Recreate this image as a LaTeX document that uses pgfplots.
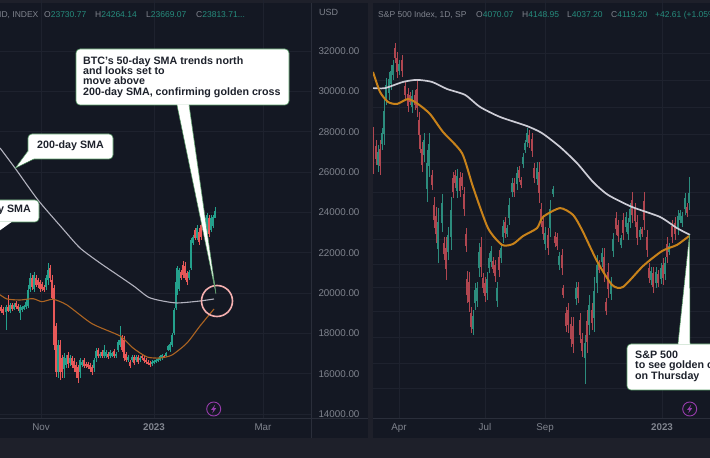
\documentclass[border=0pt]{standalone}
\usepackage{pgfplots}
\usepackage{pgfplotstable}
\usepackage{fontspec}
\setmainfont{Liberation Sans}
\pgfplotsset{compat=1.18}
\definecolor{panelbg}{RGB}{20,24,35}
\definecolor{bandbg}{RGB}{30,32,42}
\definecolor{gridc}{RGB}{30,34,46}
\definecolor{sepc}{RGB}{42,46,58}
\definecolor{labc}{RGB}{128,132,142}
\definecolor{okc}{RGB}{38,140,125}
\definecolor{teal1}{RGB}{36,160,140}
\definecolor{red1}{RGB}{232,88,88}
\definecolor{teal2}{RGB}{44,140,125}
\definecolor{red2}{RGB}{176,70,80}
\definecolor{gray1}{RGB}{178,178,190}
\definecolor{gray2}{RGB}{205,205,214}
\definecolor{or1}{RGB}{172,100,34}
\definecolor{or2}{RGB}{200,130,26}
\definecolor{cedge}{RGB}{92,160,106}
\definecolor{ctext}{RGB}{30,34,44}
\definecolor{pinkc}{RGB}{245,176,176}
\definecolor{purp}{RGB}{150,60,170}

% BTC candles: left panel
\pgfplotstableread{
x o h l c
1 19307 19406 19009 19108
3 19208 19307 18910 19009
8 19307 19902 19059 19108
12 19406 19505 19108 19208
16 19505 19604 19208 19307
18 19356 19455 19108 19208
32 20745 20894 20150 20299
36 20745 20894 20299 20398
38 20646 20745 20250 20398
40 20547 20646 20051 20200
42 20447 20547 20100 20200
44 20299 20398 20051 20150
50 21241 21390 20547 20745
52 20646 20894 19654 19753
54 20250 20398 17174 17422
56 18364 18513 15835 16083
60 17422 17670 15686 16083
62 16777 16926 15785 16083
68 16926 17075 16281 16480
72 16777 16876 16281 16430
74 16628 16777 16083 16281
76 16430 16579 15785 16083
78 16331 16430 15537 15785
84 16678 16777 16281 16380
86 16480 16579 16281 16380
88 16480 16579 16232 16331
90 16430 16529 16083 16232
92 16331 16430 15934 16083
98 17174 17273 16777 16876
102 17075 17174 16777 16876
108 16976 17075 16728 16827
114 17125 17224 16777 16876
122 17769 17918 17075 17174
124 17670 17868 16628 16777
126 16976 17075 16579 16678
130 16579 16678 16281 16380
134 16827 16926 16430 16529
138 16827 16926 16480 16579
142 16876 16926 16678 16777
144 16777 16876 16529 16628
146 16678 16777 16480 16579
148 16579 16678 16430 16480
150 16529 16628 16331 16430
164 16876 16926 16777 16827
181 21043 21142 20646 20745
183 21390 21589 20745 20894
185 21340 21539 20646 20745
187 20993 21093 20398 20547
195 23126 23225 22630 22729
199 23027 23225 22382 22531
201 23374 23523 22630 22779
203 23473 23622 23027 23126
209 23721 23870 22779 22928
}\btcred
\pgfplotstableread{
x o h l c
6 19059 19406 18166 19307
10 19108 19505 19009 19406
14 19208 19505 19158 19406
20 19009 19406 18662 19307
22 19158 19356 19059 19307
24 19208 19406 19158 19356
26 19307 19654 19208 19555
28 19356 20398 19257 20150
30 20200 20993 20051 20745
34 20200 21043 20051 20894
46 20299 20894 20150 20745
48 20646 21489 20398 21142
58 16083 17670 15785 17422
64 16232 17025 15785 16827
66 16430 16926 16281 16777
70 16529 16926 16380 16777
80 16083 16777 15785 16678
82 16430 16678 16331 16579
94 16281 16777 16083 16678
96 16777 17273 16579 17125
100 16876 17075 16777 16976
104 16876 17422 16777 17174
106 16876 17174 16777 17075
110 16876 17174 16777 17075
112 16876 17075 16827 17025
116 16876 17075 16777 16976
118 17174 17670 17075 17571
120 17422 18364 17323 17670
128 16678 16926 16579 16827
132 16678 16926 16579 16827
136 16678 16926 16579 16827
140 16678 16876 16579 16777
152 16480 16678 16380 16579
154 16529 16678 16480 16628
156 16579 16728 16529 16678
158 16628 16777 16579 16728
160 16678 16926 16628 16876
162 16777 16976 16678 16926
166 16876 17075 16827 17025
168 17174 17422 17125 17372
170 17174 17571 17075 17472
172 17422 18017 17323 17918
174 18017 19257 17918 19158
176 19257 20646 19158 20547
177 20051 21340 19902 21241
179 20200 21241 20100 21142
189 20745 21142 20646 21043
191 21241 22729 21142 22630
193 22481 22878 22382 22779
197 22729 23374 22630 23225
205 22978 23721 22878 23622
207 22878 23969 22779 23870
211 23126 23870 23027 23721
213 23324 23870 23225 23771
215 23730 24264 23721 24067
}\btcgreen
% S&P 500 candles: right panel
\pgfplotstableread{
x o h l c
373 4334 4374 4214 4254
376 4309 4330 4245 4266
380 4300 4330 4211 4241
395 4642 4659 4591 4608
397 4607 4629 4540 4562
402 4600 4619 4544 4563
405 4512 4527 4466 4481
408 4486 4506 4425 4445
410 4482 4493 4449 4460
415 4483 4500 4432 4449
417 4503 4534 4408 4440
419 4399 4425 4319 4346
420 4332 4347 4285 4300
422 4298 4323 4221 4246
432 4211 4228 4160 4177
434 4110 4136 4030 4057
436 4071 4102 3979 4010
444 3980 3999 3922 3941
446 3963 3999 3854 3890
453 4199 4221 4132 4154
455 4212 4228 4166 4182
460 4200 4221 4136 4157
462 4203 4217 4160 4174
464 4145 4170 4071 4096
466 4010 4030 3949 3969
467 3857 3884 3775 3802
469 3847 3881 3745 3779
471 3740 3762 3673 3695
481 3965 3999 3864 3898
483 3860 3877 3809 3826
485 3843 3864 3779 3800
493 3918 3932 3877 3891
495 3903 3922 3847 3866
499 3933 3956 3864 3887
505 4050 4068 3996 4014
514 4184 4200 4136 4152
519 4228 4241 4187 4200
521 4195 4204 4166 4176
529 4348 4364 4302 4318
532 4333 4353 4272 4292
534 4234 4251 4183 4200
539 4220 4255 4115 4150
541 4095 4115 4034 4054
543 4054 4075 3990 4011
548 4007 4030 3939 3962
555 4004 4017 3966 3979
557 3999 4013 3956 3970
562 3937 3959 3871 3893
563 3826 3837 3792 3803
566 3741 3762 3677 3698
568 3750 3775 3673 3699
571 3703 3728 3626 3652
573 3697 3728 3605 3636
578 3829 3847 3775 3793
580 3716 3741 3639 3665
582 3653 3673 3592 3612
587 3715 3752 3605 3642
592 3752 3775 3684 3707
599 3911 3922 3877 3888
604 3933 3962 3847 3876
606 3778 3792 3735 3749
608 3881 3911 3792 3822
616 4066 4085 4007 4026
618 4039 4058 3983 4002
623 4058 4081 3990 4013
632 4127 4153 4047 4074
635 4095 4115 4034 4054
637 4050 4075 3973 3998
642 4026 4034 4000 4009
644 4121 4153 4024 4056
647 4001 4024 3932 3955
649 3894 3911 3843 3860
653 3876 3898 3809 3831
658 3873 3888 3830 3845
663 3905 3928 3837 3860
667 3977 3999 3911 3933
672 4038 4058 3979 3999
675 4048 4068 3990 4010
687 4103 4115 4068 4080
}\spxred
\pgfplotstableread{
x o h l c
378 4244 4313 4221 4290
382 4315 4370 4296 4352
384 4351 4466 4313 4428
386 4472 4540 4449 4517
389 4490 4561 4466 4537
391 4521 4585 4500 4564
393 4551 4602 4534 4585
399 4564 4602 4551 4589
412 4441 4500 4421 4480
424 4280 4353 4255 4329
427 4163 4296 4119 4252
429 4241 4353 4204 4316
438 3958 4098 3911 4051
442 4049 4146 4017 4114
448 3950 4034 3922 4006
451 4001 4136 3956 4091
457 4157 4231 4132 4206
473 3688 3752 3667 3731
475 3775 3843 3752 3820
477 3783 3847 3762 3826
479 3893 3979 3864 3950
487 3810 3881 3786 3857
489 3894 3945 3877 3928
491 3916 3969 3898 3951
497 3783 3847 3762 3826
501 3928 3979 3911 3962
503 3999 4058 3979 4038
507 4010 4041 4000 4031
509 4064 4132 4041 4109
512 4152 4200 4136 4184
517 4180 4238 4160 4218
523 4247 4285 4234 4272
525 4296 4330 4285 4319
527 4322 4370 4306 4354
537 4197 4255 4177 4236
545 3976 4034 3956 4015
550 4032 4126 4000 4095
553 4145 4173 4136 4164
559 3903 3949 3888 3934
576 3789 3847 3769 3828
585 3590 3667 3500 3640
589 3701 3803 3667 3769
594 3724 3864 3677 3817
597 3842 3939 3809 3906
602 3914 3962 3898 3946
611 3806 3864 3786 3845
613 3952 4013 3932 3993
621 3973 4007 3962 3996
626 4034 4085 4017 4068
628 4009 4064 3990 4046
630 4051 4115 4030 4094
640 4001 4034 3990 4023
651 3852 3898 3837 3883
656 3844 3898 3826 3880
661 3858 3911 3840 3893
665 3874 3932 3854 3912
669 3949 3979 3939 3969
678 4028 4092 4007 4071
680 4058 4092 4047 4081
682 4047 4085 4034 4072
685 4094 4149 4075 4131
689 4115 4204 4092 4150
}\spxgreen

\pgfplotsset{
  panel/.style={
    scale only axis, anchor=south west, height=418pt,
    axis line style={draw=none}, tick style={draw=none},
    grid=both, major grid style={gridc,line width=.6pt},
    xticklabel style={font=\fontsize{9.8}{10}\selectfont, text=labc, yshift=-2pt},
    clip=true},
  wick/.style={draw=none, mark=none, forget plot,
    error bars/.cd, y dir=plus, y explicit, error mark=none,
    error bar style={line width=.7pt,draw=#1}},
  body/.style={draw=none, mark=none, forget plot,
    error bars/.cd, y dir=plus, y explicit, error mark=none,
    error bar style={line width=1.4pt,draw=#1}},
}

\begin{document}
\begin{tikzpicture}
\clip (0,0) rectangle (710pt,458pt);
\fill[bandbg] (0,0) rectangle (710pt,458pt);
\fill[panelbg] (0,20pt) rectangle (368pt,455pt);
\fill[panelbg] (373pt,20pt) rectangle (710pt,455pt);

\begin{axis}[panel, at={(0pt,40pt)}, width=311pt,
  xmin=0, xmax=311, ymin=13801, ymax=34534,
  xtick={41,154,263}, xticklabels={Nov,\textbf{2023},Mar},
  ytick={14000,16000,18000,20000,22000,24000,26000,28000,30000,32000},
  yticklabel pos=right,
  yticklabel style={font=\fontsize{9.8}{10}\selectfont, text=labc, anchor=west, xshift=4pt},
  /pgf/number format/fixed, /pgf/number format/fixed zerofill,
  /pgf/number format/precision=2, /pgf/number format/1000 sep={},
  /pgf/number format/assume math mode=true,
  scaled y ticks=false]
\addplot[wick=red1] table[x=x,y=l,y error plus expr=\thisrow{h}-\thisrow{l}] {\btcred};
\addplot[wick=teal1] table[x=x,y=l,y error plus expr=\thisrow{h}-\thisrow{l}] {\btcgreen};
\addplot[body=red1] table[x=x,y=c,y error plus expr=\thisrow{o}-\thisrow{c}] {\btcred};
\addplot[body=teal1] table[x=x,y=o,y error plus expr=\thisrow{c}-\thisrow{o}] {\btcgreen};
\addplot[gray1, line width=1.1pt, smooth, tension=.4] coordinates {
(0,27194)(15,26200)(38,24614)(63,23176)(80,22234)(100,21490)(122,20746)(135,20299)(148,19803)(160,19630)(177,19506)(200,19605)(214,19704)};
\addplot[or1, line width=1.1pt, smooth, tension=.4] coordinates {
(0,19917)(7,19704)(20,19654)(33,19719)(42,19570)(53,19689)(67,19406)(92,18479)(120,17869)(133,17274)(147,16827)(160,16778)(172,16926)(187,17522)(200,18365)(214,19208)};
\end{axis}

\begin{axis}[panel, at={(373pt,40pt)}, width=337pt,
  xmin=373, xmax=710, ymin=3384.4, ymax=4805.6,
  xtick={399,485,545,662}, xticklabels={Apr,Jul,Sep,\textbf{2023}},
  ytick={4625,4534,4442,4350,4255,4153,4075,3993,3908,3830,3748,3660,3571,3486},
  yticklabels={}]
\addplot[wick=red2] table[x=x,y=l,y error plus expr=\thisrow{h}-\thisrow{l}] {\spxred};
\addplot[wick=teal2] table[x=x,y=l,y error plus expr=\thisrow{h}-\thisrow{l}] {\spxgreen};
\addplot[body=red2] table[x=x,y=c,y error plus expr=\thisrow{o}-\thisrow{c}] {\spxred};
\addplot[body=teal2] table[x=x,y=o,y error plus expr=\thisrow{c}-\thisrow{o}] {\spxgreen};
\addplot[gray2, line width=1.7pt, smooth, tension=.4] coordinates {
(373,4506)(385,4506)(403,4527)(417,4534)(432,4527)(447,4503)(465,4483)(480,4442)(500,4408)(527,4377)(542,4353)(560,4306)(577,4251)(593,4187)(608,4143)(632,4102)(660,4068)(677,4030)(690,4007)};
\addplot[or2, line width=2pt, smooth, tension=.4] coordinates {
(373,4561)(380,4493)(388,4459)(397,4452)(408,4469)(418,4452)(430,4418)(443,4357)(462,4285)(473,4170)(488,4030)(502,3973)(513,3976)(523,4003)(537,4030)(543,4068)(560,4098)(573,4075)(582,4024)(597,3918)(612,3837)(623,3830)(643,3901)(662,3952)(677,3973)(689,4003)};
\end{axis}

\begin{scope}[shift={(0pt,458pt)}, x=1pt, y=-1pt]
% panel frames
\draw[sepc,line width=.6pt] (0,418)--(368,418);
\draw[sepc,line width=.6pt] (373,418)--(710,418);
\draw[sepc,line width=.6pt] (311.5,3)--(311.5,438);
% headers
\node[anchor=west,inner sep=0,text=labc,font=\fontsize{9}{10}\selectfont] at (319,12) {USD};
\begin{scope}[every node/.style={anchor=west,inner sep=0,font=\fontsize{8.5}{10}\selectfont,text=labc}]
\node at (-1,15) {ID, INDEX};
\node at (44,15) {O\textcolor{okc}{23730.77}};
\node at (95,15) {H\textcolor{okc}{24264.14}};
\node at (146,15) {L\textcolor{okc}{23669.07}};
\node at (196,15) {C\textcolor{okc}{23813.71...}};
\node at (378,15) {S\&P 500 Index, 1D, SP};
\node at (476,15) {O\textcolor{okc}{4070.07}};
\node at (522,15) {H\textcolor{okc}{4148.95}};
\node at (567,15) {L\textcolor{okc}{4037.20}};
\node at (611,15) {C\textcolor{okc}{4119.20}};
\node at (655,15) {\textcolor{okc}{+42.61 (+1.05\%)}};
\end{scope}
% circle
\draw[pinkc,line width=1.6pt] (217,301) circle (15.5pt);
% callouts
\tikzset{co/.style={draw=cedge,fill=white,line width=.6pt,rounded corners=4pt},
  ct/.style={anchor=north west,inner sep=0,align=left,text=ctext,
    font=\fontsize{10.7}{10.2}\selectfont\bfseries}}
% BTC golden cross
\draw[co] (76,49) rectangle (289,105);
\fill[white] (177,104.5)--(216,294)--(189,104.5)--cycle;
\draw[cedge,line width=.5pt] (177,105)--(216,294)--(189,105);
\node[ct] at (83,56.5) {BTC's 50-day SMA trends north\\and looks set to\\move above\\200-day SMA, confirming golden cross};
% 200-day
\draw[co] (28,134) rectangle (113,159);
\fill[white] (34,158.7)--(15.5,168)--(28,151)--cycle;
\draw[cedge,line width=.5pt] (34,159)--(15.5,168)--(28,151);
\node[anchor=center,inner sep=0,text=ctext,font=\fontsize{10.7}{10.2}\selectfont\bfseries] at (70.5,146) {200-day SMA};
% 50-day
\draw[co] (-20,200) rectangle (39,222);
\fill[white] (-1,221.7)--(-1,231)--(12,221.7)--cycle;
\node[anchor=east,inner sep=0,text=ctext,font=\fontsize{10.7}{10.2}\selectfont\bfseries] at (31,209.5) {50-day SMA};
% S&P
\draw[co] (627,344) rectangle (760,390);
\fill[white] (678,344.5)--(689.5,235)--(690,344.5)--cycle;
\draw[cedge,line width=.5pt] (678,344)--(689.5,235)--(690,344);
\node[ct] at (635,351) {S\&P 500\\to see golden cross\\on Thursday};
% lightning badges
\foreach \cx in {213.7,689.7}{
  \draw[purp,line width=.9pt] (\cx,409) circle (7pt);
  \fill[purp] (\cx+1.5,404.5)--(\cx-2.5,409.8)--(\cx-.3,409.8)--(\cx-1.5,413.5)--(\cx+2.5,408.2)--(\cx+.3,408.2)--cycle;
}
\end{scope}
\end{tikzpicture}
\end{document}
